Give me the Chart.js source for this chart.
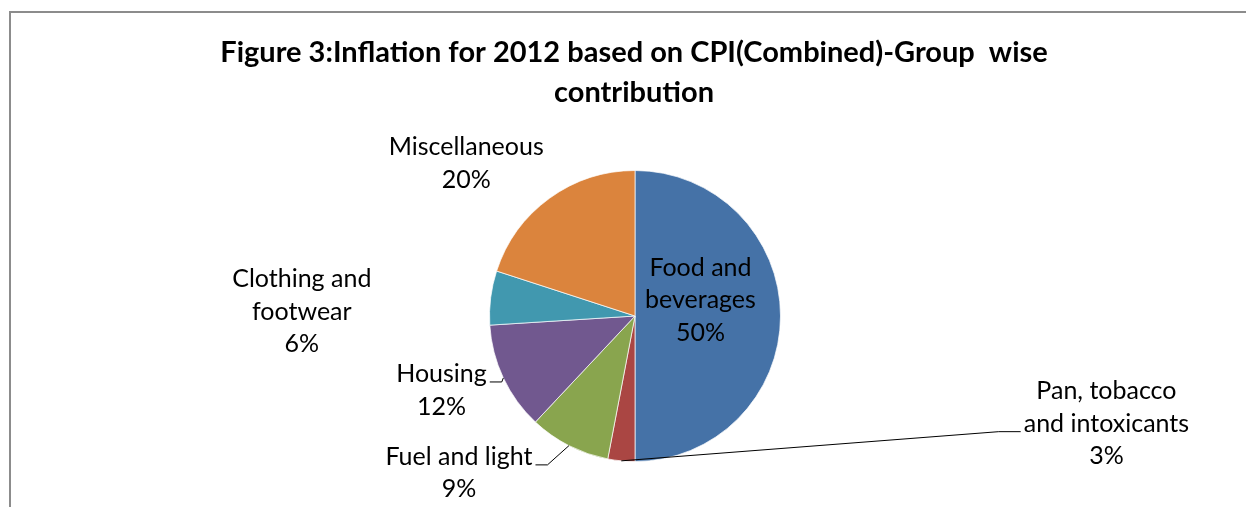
<!DOCTYPE html>
<html>
<head>
<meta charset="utf-8">
<script src="https://cdn.jsdelivr.net/npm/chart.js@4"></script>
<style>
  html, body { margin: 0; padding: 0; background: #fff; }
  #wrap { width: 1246px; height: 507px; position: relative; }
</style>
</head>
<body>
<div id="wrap"><canvas id="pieChart" width="1246" height="507"></canvas></div>
<script>
// 데이터
const categories = ['Food and beverages', 'Pan, tobacco and intoxicants', 'Fuel and light', 'Housing', 'Clothing and footwear', 'Miscellaneous'];
const shares = [50, 3, 9, 12, 6, 20];
const labelLines = [
    ['Food and', 'beverages'],
    ['Pan, tobacco', 'and intoxicants'],
    ['Fuel and light'],
    ['Housing'],
    ['Clothing and', 'footwear'],
    ['Miscellaneous']
];
const sliceColors = ['#4572A7', '#AA4643', '#89A54E', '#71588F', '#4198AF', '#DB843D'];
const titleLines = ['Figure 3:Inflation for 2012 based on CPI(Combined)-Group  wise', 'contribution'];

// 라벨 위치 (파이 중심 기준, 반지름 단위) 와 리더선 여부
const labelPos = [
    { dx: 0.45, dy: -0.11, leader: false },
    { dx: 3.24, dy: 0.74, leader: true, side: 'left', line: 1 },
    { dx: -1.21, dy: 1.08, leader: true, side: 'right', line: 0 },
    { dx: -1.33, dy: 0.51, leader: true, side: 'right', line: 0 },
    { dx: -2.29, dy: -0.03, leader: false },
    { dx: -1.16, dy: -1.05, leader: false }
];

const labelFont = '25px Lato, "DejaVu Sans", sans-serif';
const lineGap = 32.5;

// 테두리, 제목, 데이터 라벨 그리기 플러그인
const decorPlugin = {
    id: 'decor',
    beforeDraw(chart) {
        const ctx = chart.ctx;
        ctx.save();
        ctx.fillStyle = '#fff';
        ctx.fillRect(0, 0, chart.width, chart.height);
        ctx.strokeStyle = '#8c8c8c';
        ctx.lineWidth = 2;
        ctx.strokeRect(10, 12, chart.width + 20, chart.height + 20);
        ctx.fillStyle = '#000';
        ctx.font = 'bold 29px Lato, "DejaVu Sans", sans-serif';
        ctx.textAlign = 'center';
        ctx.textBaseline = 'middle';
        titleLines.forEach((t, i) => ctx.fillText(t, 634, 53 + i * 40));
        ctx.restore();
    },
    afterDraw(chart) {
        const ctx = chart.ctx;
        const arcs = chart.getDatasetMeta(0).data;
        ctx.save();
        ctx.font = labelFont;
        ctx.textAlign = 'center';
        ctx.textBaseline = 'middle';
        ctx.fillStyle = '#000';
        arcs.forEach((arc, i) => {
            const r = arc.outerRadius;
            const p = labelPos[i];
            const lines = labelLines[i].concat([shares[i] + '%']);
            const cx = arc.x + p.dx * r;
            const cy = arc.y + p.dy * r;
            const top = cy - (lines.length - 1) * lineGap / 2;
            lines.forEach((t, k) => ctx.fillText(t, cx, top + k * lineGap));

            if (p.leader) {
                const mid = (arc.startAngle + arc.endAngle) / 2;
                const ex = arc.x + Math.cos(mid) * r;
                const ey = arc.y + Math.sin(mid) * r;
                const w = ctx.measureText(lines[p.line]).width;
                const ly = top + p.line * lineGap + 8;
                const tx = p.side === 'left' ? cx - w / 2 - 3 : cx + w / 2 + 3;
                const kx = p.side === 'left' ? tx - 22 : tx + 12;
                ctx.beginPath();
                ctx.strokeStyle = '#000';
                ctx.lineWidth = 1;
                ctx.moveTo(tx, ly);
                ctx.lineTo(kx, ly);
                ctx.lineTo(ex, ey);
                ctx.stroke();
            }
        });
        ctx.restore();
    }
};

const chart = new Chart(document.getElementById('pieChart').getContext('2d'), {
    type: 'pie',
    data: {
        labels: categories,
        datasets: [{
            data: shares,
            backgroundColor: sliceColors,
            borderColor: 'rgba(255,255,255,0.7)',
            borderWidth: 1
        }]
    },
    options: {
        responsive: false,
        animation: false,
        layout: { padding: { left: 489, right: 465, top: 170, bottom: 45 } },
        plugins: {
            legend: { display: false },
            tooltip: { enabled: false },
            title: { display: false }
        }
    },
    plugins: [decorPlugin]
});
</script>
</body>
</html>
